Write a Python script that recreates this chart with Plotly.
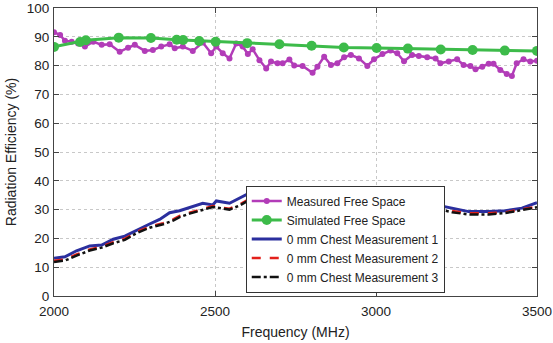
import plotly.graph_objects as go

# Measured Free Space (magenta)
meas_f = [2000, 2019, 2034, 2055, 2075, 2096, 2122, 2148, 2173, 2204, 2230, 2251, 2282, 2307,
          2333, 2359, 2375, 2400, 2431, 2462, 2488, 2504, 2524, 2545, 2566, 2586, 2602, 2617,
          2638, 2659, 2674, 2694, 2710, 2731, 2746, 2772, 2803, 2818, 2839, 2860, 2880, 2901,
          2922, 2947, 2973, 2994, 3020, 3045, 3066, 3087, 3112, 3133, 3159, 3185, 3200, 3226,
          3252, 3272, 3293, 3309, 3330, 3350, 3365, 3386, 3406, 3422, 3437, 3458, 3479, 3500]
meas_v = [91.6, 90.6, 88.6, 88.3, 87.7, 86.6, 88.3, 87.2, 87.4, 84.8, 86.2, 87.2, 85.1, 85.4,
          86.6, 87.4, 86.0, 86.6, 85.1, 88.0, 84.3, 86.6, 84.3, 82.5, 87.7, 86.6, 84.0, 85.7,
          81.9, 79.0, 81.4, 80.8, 80.8, 82.1, 80.0, 79.9, 77.5, 79.6, 83.1, 80.2, 80.8, 82.9,
          83.7, 82.5, 79.9, 82.2, 84.0, 85.2, 84.3, 81.5, 83.7, 83.3, 82.9, 82.5, 80.8, 81.4,
          82.2, 80.2, 79.9, 78.7, 79.6, 80.6, 80.6, 78.5, 77.1, 76.4, 80.8, 82.2, 81.4, 81.7]

# Simulated Free Space (green)
sim_f = [2000, 2081, 2099, 2201, 2301, 2381, 2401, 2451, 2502, 2600, 2700, 2800, 2900, 3002,
         3099, 3201, 3300, 3400, 3500]
sim_v = [86.5, 88.2, 88.8, 89.7, 89.6, 89.0, 88.9, 88.5, 88.3, 87.8, 87.4, 86.9, 86.3, 86.1,
         85.9, 85.6, 85.4, 85.2, 85.1]

# 0 mm Chest Measurement 1 (blue)
m1_f = [2000, 2034, 2070, 2111, 2148, 2184, 2220, 2256, 2297, 2328, 2359, 2390, 2421, 2462,
        2493, 2504, 2545, 2576, 2609, 2638, 2679, 2720, 2762, 2787, 2813, 2839, 2860, 2896,
        2937, 2978, 3020, 3061, 3102, 3143, 3185, 3236, 3288, 3350, 3402, 3453, 3495, 3500]
m1_v = [13.1, 13.6, 15.7, 17.4, 17.7, 19.7, 20.8, 22.9, 25.0, 26.6, 28.9, 29.6, 30.7, 32.2,
        31.6, 33.0, 32.2, 34.1, 35.9, 33.9, 35.3, 33.9, 33.6, 35.1, 34.7, 35.1, 33.3, 33.6,
        33.1, 32.7, 33.1, 33.1, 33.6, 32.7, 31.6, 30.5, 29.3, 29.3, 29.6, 30.5, 32.2, 32.4]

# 0 mm Chest Measurement 2 (red dashed)
m2_f = [2000, 2034, 2070, 2111, 2148, 2184, 2220, 2256, 2297, 2339, 2370, 2390, 2421, 2462,
        2493, 2545, 2576, 2606, 2648, 2679, 2720, 2762, 2787, 2813, 2839, 2860, 2896, 2937,
        2978, 3020, 3061, 3102, 3143, 3185, 3236, 3288, 3350, 3402, 3453, 3495, 3500]
m2_v = [12.2, 12.7, 14.4, 16.2, 17.1, 18.7, 19.9, 22.2, 24.1, 25.3, 26.6, 27.8, 28.9, 30.3,
        31.2, 30.3, 31.8, 33.6, 32.4, 33.7, 33.4, 32.6, 32.9, 33.4, 33.2, 32.4, 32.9, 32.1,
        32.6, 32.9, 32.4, 32.9, 31.8, 30.7, 29.5, 28.7, 28.7, 29.1, 30.1, 31.0, 31.0]

# 0 mm Chest Measurement 3 (black dash-dot)
m3_f = [2000, 2034, 2070, 2111, 2148, 2184, 2220, 2256, 2297, 2339, 2370, 2390, 2421, 2462,
        2493, 2545, 2576, 2606, 2648, 2679, 2720, 2762, 2787, 2813, 2839, 2860, 2896, 2937,
        2978, 3020, 3061, 3102, 3143, 3185, 3236, 3288, 3350, 3402, 3453, 3495, 3500]
m3_v = [11.8, 12.3, 14.0, 15.8, 16.8, 18.3, 19.5, 21.8, 23.7, 24.9, 26.2, 27.4, 28.6, 30.0,
        30.9, 30.0, 31.4, 33.3, 32.0, 33.4, 33.1, 32.2, 32.5, 33.0, 32.9, 32.0, 32.5, 31.7,
        32.2, 32.6, 32.0, 32.5, 31.4, 30.3, 29.1, 28.3, 28.3, 28.8, 29.7, 30.7, 30.8]

x_ticks = [2000, 2500, 3000, 3500]
y_ticks = list(range(0, 101, 10))

fig = go.Figure()
fig.add_trace(go.Scatter(x=meas_f, y=meas_v, mode="lines+markers", name="Measured Free Space",
                         line=dict(color="#b23cb8", width=2.5), marker=dict(size=6, color="#b23cb8")))
fig.add_trace(go.Scatter(x=sim_f, y=sim_v, mode="lines+markers", name="Simulated Free Space",
                         line=dict(color="#3dbb4a", width=3), marker=dict(size=10, color="#3dbb4a")))
fig.add_trace(go.Scatter(x=m1_f, y=m1_v, mode="lines", name="0 mm Chest Measurement 1",
                         line=dict(color="#2b2f9e", width=3)))
fig.add_trace(go.Scatter(x=m2_f, y=m2_v, mode="lines", name="0 mm Chest Measurement 2",
                         line=dict(color="#e3201b", width=2.5, dash="dash")))
fig.add_trace(go.Scatter(x=m3_f, y=m3_v, mode="lines", name="0 mm Chest Measurement 3",
                         line=dict(color="#111111", width=2.5, dash="dashdot")))

axis_common = dict(showline=True, linecolor="#444444", linewidth=1.2, mirror="ticks",
                   ticks="inside", ticklen=5, tickcolor="#444444", automargin=False,
                   showgrid=True, gridcolor="#c8c8c8", griddash="dot", gridwidth=1,
                   zeroline=False, tickfont=dict(size=13.5, color="#222222"))

fig.update_layout(
    width=553, height=343,
    margin=dict(l=54, r=16, t=8, b=47),
    paper_bgcolor="white", plot_bgcolor="white",
    font=dict(family="Liberation Sans, Arial, sans-serif", color="#222222"),
    showlegend=True,
    legend=dict(x=0.397, y=0.012, xanchor="left", yanchor="bottom",
                bgcolor="white", bordercolor="#333333", borderwidth=1,
                font=dict(size=12), tracegroupgap=0),
    xaxis=dict(range=[2000, 3500], tickvals=x_ticks, ticklabelstandoff=3,
               title=dict(text="Frequency (MHz)", font=dict(size=14), standoff=8), **axis_common),
    yaxis=dict(range=[0, 100], tickvals=y_ticks, ticklabelstandoff=1,
               title=dict(text="Radiation Efficiency (%)", font=dict(size=14), standoff=6), **axis_common),
)

fig.write_html("out.html", config={"displayModeBar": False},
               post_script="document.body.style.margin='0';")
